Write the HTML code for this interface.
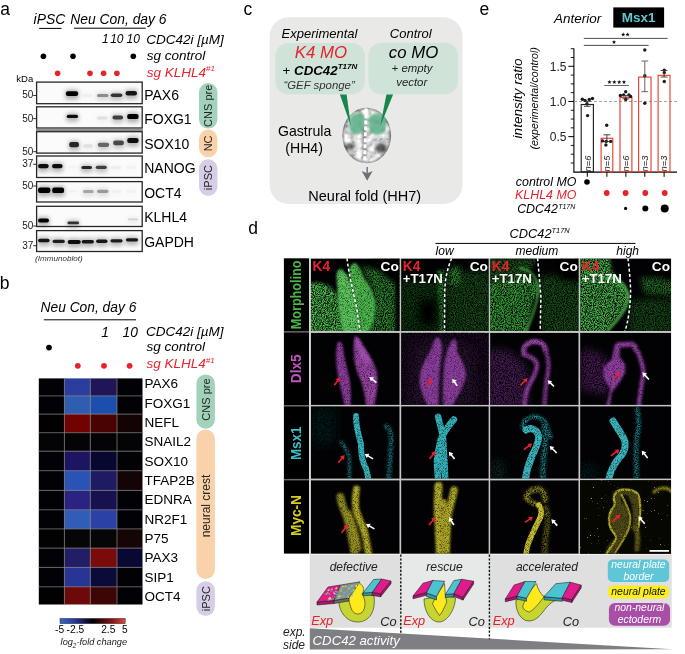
<!DOCTYPE html>
<html><head><meta charset="utf-8"><style>
html,body{margin:0;padding:0;background:#fff;width:685px;height:654px;overflow:hidden}
svg{display:block;will-change:transform}
text{font-family:"Liberation Sans", sans-serif}
</style></head><body>
<svg width="685" height="654" viewBox="0 0 685 654">
<defs>
<filter id="bl2" x="-50%" y="-50%" width="200%" height="200%"><feGaussianBlur stdDeviation="2"/></filter>
<radialGradient id="embG" cx="0.5" cy="0.45" r="0.6"><stop offset="0" stop-color="#d8d8d8"/><stop offset="0.75" stop-color="#bdbdbd"/><stop offset="1" stop-color="#5a5a5a"/></radialGradient>
<pattern id="speck" width="4" height="4" patternUnits="userSpaceOnUse"><rect width="4" height="4" fill="none"/></pattern>
<filter id="specF" x="0" y="0" width="100%" height="100%"><feTurbulence type="fractalNoise" baseFrequency="0.7" numOctaves="2" seed="7"/><feColorMatrix type="matrix" values="0 0 0 0 0.6  0 0 0 0 0.58  0 0 0 0 0.12  9 0 0 0 -6.6"/></filter>
<filter id="texA" filterUnits="userSpaceOnUse" x="0" y="0" width="685" height="654"><feTurbulence type="fractalNoise" baseFrequency="0.9" numOctaves="3" seed="3" result="n"/><feColorMatrix in="n" type="matrix" values="0 0 0 0 0  0 0 0 0 0  0 0 0 0 0  2.6 0 0 0 -0.72" result="a"/><feComposite in="SourceGraphic" in2="a" operator="in"/></filter>
<filter id="texB" filterUnits="userSpaceOnUse" x="0" y="0" width="685" height="654"><feTurbulence type="fractalNoise" baseFrequency="1.3" numOctaves="2" seed="9" result="n"/><feColorMatrix in="n" type="matrix" values="0 0 0 0 0  0 0 0 0 0  0 0 0 0 0  1.8 0 0 0 0.0" result="a"/><feComposite in="SourceGraphic" in2="a" operator="in"/></filter>
<filter id="embT" x="0" y="0" width="100%" height="100%"><feTurbulence type="fractalNoise" baseFrequency="0.16" numOctaves="3" seed="11" result="n"/><feColorMatrix in="n" type="matrix" values="1.25 0 0 0 0.12  1.25 0 0 0 0.12  1.25 0 0 0 0.12  0 0 0 0 1"/></filter>
<filter id="bl1" x="-50%" y="-100%" width="200%" height="300%"><feGaussianBlur stdDeviation="0.75"/></filter>
<clipPath id="blotclip"><rect x="37.3" y="82.2" width="104.3" height="169.2"/></clipPath>
<linearGradient id="cbar" x1="0" x2="1" y1="0" y2="0">
<stop offset="0" stop-color="#3566c6"/><stop offset="0.22" stop-color="#2a3a9a"/><stop offset="0.42" stop-color="#0c0c30"/><stop offset="0.5" stop-color="#000"/><stop offset="0.6" stop-color="#300404"/><stop offset="0.8" stop-color="#8a1414"/><stop offset="1" stop-color="#d84a3c"/></linearGradient>
<filter id="bb6" filterUnits="userSpaceOnUse" x="0" y="0" width="685" height="654"><feGaussianBlur stdDeviation="0.6"/></filter><filter id="bb7" filterUnits="userSpaceOnUse" x="0" y="0" width="685" height="654"><feGaussianBlur stdDeviation="0.7"/></filter><filter id="bb8" filterUnits="userSpaceOnUse" x="0" y="0" width="685" height="654"><feGaussianBlur stdDeviation="0.8"/></filter><filter id="bb9" filterUnits="userSpaceOnUse" x="0" y="0" width="685" height="654"><feGaussianBlur stdDeviation="0.9"/></filter><filter id="bb10" filterUnits="userSpaceOnUse" x="0" y="0" width="685" height="654"><feGaussianBlur stdDeviation="1.0"/></filter><filter id="bb11" filterUnits="userSpaceOnUse" x="0" y="0" width="685" height="654"><feGaussianBlur stdDeviation="1.1"/></filter><filter id="bb12" filterUnits="userSpaceOnUse" x="0" y="0" width="685" height="654"><feGaussianBlur stdDeviation="1.2"/></filter><filter id="bb13" filterUnits="userSpaceOnUse" x="0" y="0" width="685" height="654"><feGaussianBlur stdDeviation="1.3"/></filter><filter id="bb14" filterUnits="userSpaceOnUse" x="0" y="0" width="685" height="654"><feGaussianBlur stdDeviation="1.4"/></filter><filter id="bb15" filterUnits="userSpaceOnUse" x="0" y="0" width="685" height="654"><feGaussianBlur stdDeviation="1.5"/></filter><filter id="bb20" filterUnits="userSpaceOnUse" x="0" y="0" width="685" height="654"><feGaussianBlur stdDeviation="2"/></filter><filter id="bb25" filterUnits="userSpaceOnUse" x="0" y="0" width="685" height="654"><feGaussianBlur stdDeviation="2.5"/></filter><filter id="bb30" filterUnits="userSpaceOnUse" x="0" y="0" width="685" height="654"><feGaussianBlur stdDeviation="3"/></filter><filter id="bb40" filterUnits="userSpaceOnUse" x="0" y="0" width="685" height="654"><feGaussianBlur stdDeviation="4"/></filter><filter id="bb60" filterUnits="userSpaceOnUse" x="0" y="0" width="685" height="654"><feGaussianBlur stdDeviation="6"/></filter></defs>
<text x="0.2" y="14.6" font-size="17.5" fill="#000">a</text>
<text x="33.6" y="23.8" font-size="13.9" fill="#000" font-style="italic">iPSC</text>
<line x1="39.2" y1="28.4" x2="61.5" y2="28.4" stroke="#000" stroke-width="1"/>
<text x="70.3" y="23.8" font-size="13.85" fill="#000" font-style="italic">Neu Con, day 6</text>
<line x1="73.9" y1="28.2" x2="145.8" y2="28.2" stroke="#000" stroke-width="1"/>
<text x="101.9" y="43.1" font-size="12" fill="#000" font-style="italic">1</text>
<text x="110.2" y="43.1" font-size="12" fill="#000" font-style="italic">10</text>
<text x="126.6" y="43.1" font-size="12" fill="#000" font-style="italic">10</text>
<text x="146.3" y="43.8" font-size="13.5" fill="#000" font-style="italic">CDC42i [µM]</text>
<text x="146.8" y="59.9" font-size="13.5" fill="#000" font-style="italic">sg control</text>
<text x="146.8" y="76.7" font-size="13.5" fill="#e8222b" font-style="italic">sg KLHL4<tspan font-size="8" dy="-5.5">#1</tspan></text>
<circle cx="43.4" cy="56.3" r="2.8" fill="#000"/>
<circle cx="73" cy="56.3" r="2.8" fill="#000"/>
<circle cx="133.3" cy="56.3" r="2.8" fill="#000"/>
<circle cx="57.6" cy="73.3" r="2.8" fill="#e8222b"/>
<circle cx="90" cy="73.3" r="2.8" fill="#e8222b"/>
<circle cx="103.6" cy="73.3" r="2.8" fill="#e8222b"/>
<circle cx="116.9" cy="73.3" r="2.8" fill="#e8222b"/>
<text x="16.3" y="82.3" font-size="9.5" fill="#000">kDa</text>
<rect x="36.6" y="82.1" width="105.6" height="21.60000000000001" fill="#fbfbfb" stroke="#262626" stroke-width="1.3"/>
<rect x="36.6" y="106.8" width="105.6" height="21.200000000000003" fill="#fbfbfb" stroke="#262626" stroke-width="1.3"/>
<rect x="36.6" y="131.7" width="105.6" height="21.400000000000006" fill="#fbfbfb" stroke="#262626" stroke-width="1.3"/>
<rect x="36.6" y="156.0" width="105.6" height="21.5" fill="#fbfbfb" stroke="#262626" stroke-width="1.3"/>
<rect x="36.6" y="181.6" width="105.6" height="20.400000000000006" fill="#fbfbfb" stroke="#262626" stroke-width="1.3"/>
<rect x="36.6" y="206.3" width="105.6" height="20.19999999999999" fill="#fbfbfb" stroke="#262626" stroke-width="1.3"/>
<rect x="36.6" y="230.6" width="105.6" height="20.900000000000006" fill="#fbfbfb" stroke="#262626" stroke-width="1.3"/>
<rect x="36" y="129.1" width="107" height="1.9" fill="#8a8a8a"/>
<g clip-path="url(#blotclip)">
<rect x="65.3" y="89.8" width="13.4" height="9.6" rx="2" fill="rgb(0,0,0)" opacity="0.3" filter="url(#bl2)"/>
<rect x="65.8" y="91.3" width="12.4" height="4.6" rx="2.2" fill="rgb(0,0,0)" filter="url(#bl1)"/>
<rect x="82.0" y="92.5" width="11.0" height="8.0" rx="2" fill="rgb(239,239,239)" opacity="0.3" filter="url(#bl2)"/>
<rect x="82.5" y="94.0" width="10.0" height="3.0" rx="1.5" fill="rgb(239,239,239)" filter="url(#bl1)"/>
<rect x="96.5" y="92.5" width="12.4" height="8.0" rx="2" fill="rgb(140,140,140)" opacity="0.3" filter="url(#bl2)"/>
<rect x="97.0" y="94.0" width="11.4" height="3.0" rx="1.5" fill="rgb(140,140,140)" filter="url(#bl1)"/>
<rect x="110.3" y="91.9" width="12.5" height="8.6" rx="2" fill="rgb(50,50,50)" opacity="0.3" filter="url(#bl2)"/>
<rect x="110.8" y="93.4" width="11.5" height="3.6" rx="1.8" fill="rgb(50,50,50)" filter="url(#bl1)"/>
<rect x="125.1" y="89.5" width="12.4" height="9.4" rx="2" fill="rgb(25,25,25)" opacity="0.3" filter="url(#bl2)"/>
<rect x="125.6" y="91.0" width="11.4" height="4.4" rx="2.2" fill="rgb(25,25,25)" filter="url(#bl1)"/>
<rect x="66.2" y="113.2" width="12.4" height="8.4" rx="2" fill="rgb(12,12,12)" opacity="0.3" filter="url(#bl2)"/>
<rect x="66.7" y="114.7" width="11.4" height="3.4" rx="1.7" fill="rgb(12,12,12)" filter="url(#bl1)"/>
<rect x="96.5" y="115.0" width="11.5" height="8.0" rx="2" fill="rgb(224,224,224)" opacity="0.3" filter="url(#bl2)"/>
<rect x="97.0" y="116.5" width="10.5" height="3.0" rx="1.5" fill="rgb(224,224,224)" filter="url(#bl1)"/>
<rect x="112.0" y="114.1" width="11.6" height="8.8" rx="2" fill="rgb(63,63,63)" opacity="0.3" filter="url(#bl2)"/>
<rect x="112.5" y="115.6" width="10.6" height="3.8" rx="1.9" fill="rgb(63,63,63)" filter="url(#bl1)"/>
<rect x="126.7" y="112.4" width="12.4" height="10.2" rx="2" fill="rgb(0,0,0)" opacity="0.3" filter="url(#bl2)"/>
<rect x="127.2" y="113.9" width="11.4" height="5.2" rx="2.2" fill="rgb(0,0,0)" filter="url(#bl1)"/>
<rect x="68.7" y="140.5" width="10.8" height="10.2" rx="2" fill="rgb(38,38,38)" opacity="0.3" filter="url(#bl2)"/>
<rect x="69.2" y="142.0" width="9.8" height="5.2" rx="2.2" fill="rgb(38,38,38)" filter="url(#bl1)"/>
<rect x="82.6" y="142.7" width="10.8" height="8.6" rx="2" fill="rgb(224,224,224)" opacity="0.3" filter="url(#bl2)"/>
<rect x="83.1" y="144.2" width="9.8" height="3.6" rx="1.8" fill="rgb(224,224,224)" filter="url(#bl1)"/>
<rect x="97.3" y="141.2" width="12.4" height="9.2" rx="2" fill="rgb(102,102,102)" opacity="0.3" filter="url(#bl2)"/>
<rect x="97.8" y="142.7" width="11.4" height="4.2" rx="2.1" fill="rgb(102,102,102)" filter="url(#bl1)"/>
<rect x="112.8" y="138.9" width="11.7" height="9.8" rx="2" fill="rgb(71,71,71)" opacity="0.3" filter="url(#bl2)"/>
<rect x="113.2" y="140.4" width="10.7" height="4.8" rx="2.2" fill="rgb(71,71,71)" filter="url(#bl1)"/>
<rect x="126.7" y="136.5" width="12.4" height="10.0" rx="2" fill="rgb(12,12,12)" opacity="0.3" filter="url(#bl2)"/>
<rect x="127.2" y="138.0" width="11.4" height="5.0" rx="2.2" fill="rgb(12,12,12)" filter="url(#bl1)"/>
<rect x="37.5" y="162.4" width="11.7" height="9.4" rx="2" fill="rgb(12,12,12)" opacity="0.3" filter="url(#bl2)"/>
<rect x="38.0" y="163.9" width="10.7" height="4.4" rx="2.2" fill="rgb(12,12,12)" filter="url(#bl1)"/>
<rect x="51.5" y="162.4" width="11.6" height="9.4" rx="2" fill="rgb(12,12,12)" opacity="0.3" filter="url(#bl2)"/>
<rect x="52.0" y="163.9" width="10.6" height="4.4" rx="2.2" fill="rgb(12,12,12)" filter="url(#bl1)"/>
<rect x="67.5" y="164.4" width="10.0" height="7.6" rx="2" fill="rgb(244,244,244)" opacity="0.3" filter="url(#bl2)"/>
<rect x="68.0" y="165.9" width="9.0" height="2.6" rx="1.3" fill="rgb(244,244,244)" filter="url(#bl1)"/>
<rect x="80.9" y="164.4" width="11.6" height="8.2" rx="2" fill="rgb(38,38,38)" opacity="0.3" filter="url(#bl2)"/>
<rect x="81.4" y="165.9" width="10.6" height="3.2" rx="1.6" fill="rgb(38,38,38)" filter="url(#bl1)"/>
<rect x="95.3" y="164.2" width="12.0" height="8.2" rx="2" fill="rgb(63,63,63)" opacity="0.3" filter="url(#bl2)"/>
<rect x="95.8" y="165.7" width="11.0" height="3.2" rx="1.6" fill="rgb(63,63,63)" filter="url(#bl1)"/>
<rect x="110.5" y="164.7" width="11.0" height="7.6" rx="2" fill="rgb(237,237,237)" opacity="0.3" filter="url(#bl2)"/>
<rect x="111.0" y="166.2" width="10.0" height="2.6" rx="1.3" fill="rgb(237,237,237)" filter="url(#bl1)"/>
<rect x="125.5" y="164.7" width="11.0" height="7.6" rx="2" fill="rgb(242,242,242)" opacity="0.3" filter="url(#bl2)"/>
<rect x="126.0" y="166.2" width="10.0" height="2.6" rx="1.3" fill="rgb(242,242,242)" filter="url(#bl1)"/>
<rect x="37.5" y="186.1" width="13.4" height="10.4" rx="2" fill="rgb(0,0,0)" opacity="0.3" filter="url(#bl2)"/>
<rect x="38.0" y="187.6" width="12.4" height="5.4" rx="2.2" fill="rgb(0,0,0)" filter="url(#bl1)"/>
<rect x="51.8" y="186.0" width="12.9" height="10.6" rx="2" fill="rgb(0,0,0)" opacity="0.3" filter="url(#bl2)"/>
<rect x="52.2" y="187.5" width="11.9" height="5.6" rx="2.2" fill="rgb(0,0,0)" filter="url(#bl1)"/>
<rect x="67.5" y="188.5" width="10.0" height="7.6" rx="2" fill="rgb(242,242,242)" opacity="0.3" filter="url(#bl2)"/>
<rect x="68.0" y="190.0" width="9.0" height="2.6" rx="1.3" fill="rgb(242,242,242)" filter="url(#bl1)"/>
<rect x="82.5" y="188.4" width="11.7" height="8.2" rx="2" fill="rgb(165,165,165)" opacity="0.3" filter="url(#bl2)"/>
<rect x="83.0" y="189.9" width="10.7" height="3.2" rx="1.6" fill="rgb(165,165,165)" filter="url(#bl1)"/>
<rect x="96.5" y="188.2" width="12.4" height="8.2" rx="2" fill="rgb(153,153,153)" opacity="0.3" filter="url(#bl2)"/>
<rect x="97.0" y="189.7" width="11.4" height="3.2" rx="1.6" fill="rgb(153,153,153)" filter="url(#bl1)"/>
<rect x="111.0" y="188.7" width="11.0" height="7.6" rx="2" fill="rgb(239,239,239)" opacity="0.3" filter="url(#bl2)"/>
<rect x="111.5" y="190.2" width="10.0" height="2.6" rx="1.3" fill="rgb(239,239,239)" filter="url(#bl1)"/>
<rect x="125.5" y="188.7" width="11.0" height="7.6" rx="2" fill="rgb(242,242,242)" opacity="0.3" filter="url(#bl2)"/>
<rect x="126.0" y="190.2" width="10.0" height="2.6" rx="1.3" fill="rgb(242,242,242)" filter="url(#bl1)"/>
<rect x="37.5" y="217.0" width="12.0" height="9.0" rx="2" fill="rgb(0,0,0)" opacity="0.3" filter="url(#bl2)"/>
<rect x="38.0" y="218.5" width="11.0" height="4.0" rx="2.0" fill="rgb(0,0,0)" filter="url(#bl1)"/>
<rect x="67.0" y="220.1" width="12.5" height="7.6" rx="2" fill="rgb(50,50,50)" opacity="0.3" filter="url(#bl2)"/>
<rect x="67.5" y="221.6" width="11.5" height="2.6" rx="1.3" fill="rgb(50,50,50)" filter="url(#bl1)"/>
<rect x="127.5" y="217.0" width="11.0" height="6.8" rx="2" fill="rgb(209,209,209)" opacity="0.3" filter="url(#bl2)"/>
<rect x="128.0" y="218.5" width="10.0" height="1.8" rx="0.9" fill="rgb(209,209,209)" filter="url(#bl1)"/>
<rect x="37.5" y="237.2" width="12.6" height="8.6" rx="2" fill="rgb(20,20,20)" opacity="0.3" filter="url(#bl2)"/>
<rect x="38.0" y="238.7" width="11.6" height="3.6" rx="1.8" fill="rgb(20,20,20)" filter="url(#bl1)"/>
<rect x="52.1" y="238.2" width="13.2" height="8.2" rx="2" fill="rgb(30,30,30)" opacity="0.3" filter="url(#bl2)"/>
<rect x="52.6" y="239.7" width="12.2" height="3.2" rx="1.6" fill="rgb(30,30,30)" filter="url(#bl1)"/>
<rect x="67.2" y="238.5" width="14.0" height="9.0" rx="2" fill="rgb(12,12,12)" opacity="0.3" filter="url(#bl2)"/>
<rect x="67.7" y="240.0" width="13.0" height="4.0" rx="2.0" fill="rgb(12,12,12)" filter="url(#bl1)"/>
<rect x="81.2" y="238.4" width="13.2" height="8.6" rx="2" fill="rgb(20,20,20)" opacity="0.3" filter="url(#bl2)"/>
<rect x="81.7" y="239.9" width="12.2" height="3.6" rx="1.8" fill="rgb(20,20,20)" filter="url(#bl1)"/>
<rect x="95.6" y="237.9" width="12.4" height="8.6" rx="2" fill="rgb(25,25,25)" opacity="0.3" filter="url(#bl2)"/>
<rect x="96.1" y="239.4" width="11.4" height="3.6" rx="1.8" fill="rgb(25,25,25)" filter="url(#bl1)"/>
<rect x="109.9" y="237.7" width="13.2" height="8.2" rx="2" fill="rgb(30,30,30)" opacity="0.3" filter="url(#bl2)"/>
<rect x="110.4" y="239.2" width="12.2" height="3.2" rx="1.6" fill="rgb(30,30,30)" filter="url(#bl1)"/>
<rect x="125.4" y="236.7" width="13.2" height="8.2" rx="2" fill="rgb(25,25,25)" opacity="0.3" filter="url(#bl2)"/>
<rect x="125.9" y="238.2" width="12.2" height="3.2" rx="1.6" fill="rgb(25,25,25)" filter="url(#bl1)"/>
</g>
<text x="33.4" y="98.4" font-size="10" fill="#1a1a1a" text-anchor="end">50</text>
<line x1="33.2" y1="95.5" x2="36.2" y2="95.5" stroke="#000" stroke-width="0.8"/>
<text x="33.4" y="121.5" font-size="10" fill="#1a1a1a" text-anchor="end">50</text>
<line x1="33.2" y1="118.6" x2="36.2" y2="118.6" stroke="#000" stroke-width="0.8"/>
<text x="33.4" y="154.6" font-size="10" fill="#1a1a1a" text-anchor="end">50</text>
<line x1="33.2" y1="151.7" x2="36.2" y2="151.7" stroke="#000" stroke-width="0.8"/>
<text x="33.4" y="167.20000000000002" font-size="10" fill="#1a1a1a" text-anchor="end">37</text>
<line x1="33.2" y1="164.3" x2="36.2" y2="164.3" stroke="#000" stroke-width="0.8"/>
<text x="33.4" y="188.9" font-size="10" fill="#1a1a1a" text-anchor="end">50</text>
<line x1="33.2" y1="186" x2="36.2" y2="186" stroke="#000" stroke-width="0.8"/>
<text x="33.4" y="228.9" font-size="10" fill="#1a1a1a" text-anchor="end">50</text>
<line x1="33.2" y1="226" x2="36.2" y2="226" stroke="#000" stroke-width="0.8"/>
<text x="33.4" y="248.6" font-size="10" fill="#1a1a1a" text-anchor="end">37</text>
<line x1="33.2" y1="245.7" x2="36.2" y2="245.7" stroke="#000" stroke-width="0.8"/>
<text x="144.2" y="99.6" font-size="14" fill="#000">PAX6</text>
<text x="144.2" y="124.1" font-size="14" fill="#000">FOXG1</text>
<text x="144.2" y="148.6" font-size="14" fill="#000">SOX10</text>
<text x="144.2" y="173" font-size="14" fill="#000">NANOG</text>
<text x="144.2" y="197.6" font-size="14" fill="#000">OCT4</text>
<text x="144.2" y="222.3" font-size="14" fill="#000">KLHL4</text>
<text x="144.2" y="246.7" font-size="14" fill="#000">GAPDH</text>
<rect x="199" y="83" width="18.400000000000006" height="45.599999999999994" rx="9.200000000000003" fill="#a3d2bc"/>
<text transform="translate(208.2,105.8) rotate(-90)" text-anchor="middle" dominant-baseline="central" font-size="11" fill="#222">CNS pre</text>
<rect x="199" y="129.5" width="18.400000000000006" height="27.80000000000001" rx="9.200000000000003" fill="#f9d2aa"/>
<text transform="translate(208.2,143.4) rotate(-90)" text-anchor="middle" dominant-baseline="central" font-size="11" fill="#222">NC</text>
<rect x="199" y="159.2" width="18.400000000000006" height="36.80000000000001" rx="9.200000000000003" fill="#d6cee6"/>
<text transform="translate(208.2,177.6) rotate(-90)" text-anchor="middle" dominant-baseline="central" font-size="11" fill="#222">iPSC</text>
<text x="35" y="260.8" font-size="8.1" fill="#333" font-style="italic">(Immunoblot)</text>
<text x="-0.2" y="289.3" font-size="17.5" fill="#000">b</text>
<text x="40.5" y="311.5" font-size="13.8" fill="#000" font-style="italic">Neu Con, day 6</text>
<line x1="43.8" y1="319.8" x2="136" y2="319.8" stroke="#000" stroke-width="1"/>
<text x="101.3" y="336.5" font-size="13.8" fill="#000" font-style="italic">1</text>
<text x="122.6" y="336.5" font-size="13.8" fill="#000" font-style="italic">10</text>
<text x="146" y="335.5" font-size="13.5" fill="#000" font-style="italic">CDC42i [µM]</text>
<text x="146.5" y="351" font-size="13.5" fill="#000" font-style="italic">sg control</text>
<text x="146.5" y="368" font-size="13.5" fill="#e8222b" font-style="italic">sg KLHL4<tspan font-size="8" dy="-5.5">#1</tspan></text>
<circle cx="49" cy="347.6" r="2.9" fill="#000"/>
<circle cx="77.8" cy="365.8" r="2.9" fill="#e8222b"/>
<circle cx="104" cy="365.8" r="2.9" fill="#e8222b"/>
<circle cx="129.6" cy="365.8" r="2.9" fill="#e8222b"/>
<rect x="38.8" y="378.4" width="25.90000000000001" height="17.8" fill="#010106"/>
<rect x="64.4" y="378.4" width="26.199999999999992" height="17.8" fill="#2b3d9d"/>
<rect x="90.3" y="378.4" width="27.000000000000004" height="17.8" fill="#1e1656"/>
<rect x="117" y="378.4" width="25.49999999999999" height="17.8" fill="#010106"/>
<rect x="38.8" y="395.9" width="25.90000000000001" height="18.500000000000046" fill="#010106"/>
<rect x="64.4" y="395.9" width="26.199999999999992" height="18.500000000000046" fill="#2f5daf"/>
<rect x="90.3" y="395.9" width="27.000000000000004" height="18.500000000000046" fill="#1c4fad"/>
<rect x="117" y="395.9" width="25.49999999999999" height="18.500000000000046" fill="#010106"/>
<rect x="38.8" y="414.1" width="25.90000000000001" height="18.899999999999967" fill="#020000"/>
<rect x="64.4" y="414.1" width="26.199999999999992" height="18.899999999999967" fill="#720202"/>
<rect x="90.3" y="414.1" width="27.000000000000004" height="18.899999999999967" fill="#4a0303"/>
<rect x="117" y="414.1" width="25.49999999999999" height="18.899999999999967" fill="#130303"/>
<rect x="38.8" y="432.7" width="25.90000000000001" height="18.8" fill="#040406"/>
<rect x="64.4" y="432.7" width="26.199999999999992" height="18.8" fill="#040406"/>
<rect x="90.3" y="432.7" width="27.000000000000004" height="18.8" fill="#040406"/>
<rect x="117" y="432.7" width="25.49999999999999" height="18.8" fill="#040406"/>
<rect x="38.8" y="451.2" width="25.90000000000001" height="19.8" fill="#010106"/>
<rect x="64.4" y="451.2" width="26.199999999999992" height="19.8" fill="#1d1561"/>
<rect x="90.3" y="451.2" width="27.000000000000004" height="19.8" fill="#07072f"/>
<rect x="117" y="451.2" width="25.49999999999999" height="19.8" fill="#010106"/>
<rect x="38.8" y="470.7" width="25.90000000000001" height="19.99999999999999" fill="#010106"/>
<rect x="64.4" y="470.7" width="26.199999999999992" height="19.99999999999999" fill="#2b53b5"/>
<rect x="90.3" y="470.7" width="27.000000000000004" height="19.99999999999999" fill="#1f1b63"/>
<rect x="117" y="470.7" width="25.49999999999999" height="19.99999999999999" fill="#130505"/>
<rect x="38.8" y="490.4" width="25.90000000000001" height="19.700000000000035" fill="#010106"/>
<rect x="64.4" y="490.4" width="26.199999999999992" height="19.700000000000035" fill="#2b2381"/>
<rect x="90.3" y="490.4" width="27.000000000000004" height="19.700000000000035" fill="#17114f"/>
<rect x="117" y="490.4" width="25.49999999999999" height="19.700000000000035" fill="#010106"/>
<rect x="38.8" y="509.8" width="25.90000000000001" height="19.399999999999967" fill="#010106"/>
<rect x="64.4" y="509.8" width="26.199999999999992" height="19.399999999999967" fill="#305db7"/>
<rect x="90.3" y="509.8" width="27.000000000000004" height="19.399999999999967" fill="#2b41a5"/>
<rect x="117" y="509.8" width="25.49999999999999" height="19.399999999999967" fill="#010106"/>
<rect x="38.8" y="528.9" width="25.90000000000001" height="19.500000000000046" fill="#020202"/>
<rect x="64.4" y="528.9" width="26.199999999999992" height="19.500000000000046" fill="#060606"/>
<rect x="90.3" y="528.9" width="27.000000000000004" height="19.500000000000046" fill="#060606"/>
<rect x="117" y="528.9" width="25.49999999999999" height="19.500000000000046" fill="#150505"/>
<rect x="38.8" y="548.1" width="25.90000000000001" height="19.599999999999955" fill="#010106"/>
<rect x="64.4" y="548.1" width="26.199999999999992" height="19.599999999999955" fill="#211d67"/>
<rect x="90.3" y="548.1" width="27.000000000000004" height="19.599999999999955" fill="#790b0b"/>
<rect x="117" y="548.1" width="25.49999999999999" height="19.599999999999955" fill="#080833"/>
<rect x="38.8" y="567.4" width="25.90000000000001" height="19.699999999999978" fill="#010106"/>
<rect x="64.4" y="567.4" width="26.199999999999992" height="19.699999999999978" fill="#293595"/>
<rect x="90.3" y="567.4" width="27.000000000000004" height="19.699999999999978" fill="#0a0b39"/>
<rect x="117" y="567.4" width="25.49999999999999" height="19.699999999999978" fill="#010106"/>
<rect x="38.8" y="586.8" width="25.90000000000001" height="17.70000000000009" fill="#020000"/>
<rect x="64.4" y="586.8" width="26.199999999999992" height="17.70000000000009" fill="#6d0909"/>
<rect x="90.3" y="586.8" width="27.000000000000004" height="17.70000000000009" fill="#3d0505"/>
<rect x="117" y="586.8" width="25.49999999999999" height="17.70000000000009" fill="#010106"/>
<line x1="64.4" y1="378.4" x2="64.4" y2="604.2" stroke="#8a8a8a" stroke-width="0.7"/>
<line x1="90.3" y1="378.4" x2="90.3" y2="604.2" stroke="#8a8a8a" stroke-width="0.7"/>
<line x1="117" y1="378.4" x2="117" y2="604.2" stroke="#8a8a8a" stroke-width="0.7"/>
<line x1="38.8" y1="395.9" x2="142.2" y2="395.9" stroke="#8a8a8a" stroke-width="0.7"/>
<line x1="38.8" y1="414.1" x2="142.2" y2="414.1" stroke="#8a8a8a" stroke-width="0.7"/>
<line x1="38.8" y1="432.7" x2="142.2" y2="432.7" stroke="#8a8a8a" stroke-width="0.7"/>
<line x1="38.8" y1="451.2" x2="142.2" y2="451.2" stroke="#8a8a8a" stroke-width="0.7"/>
<line x1="38.8" y1="470.7" x2="142.2" y2="470.7" stroke="#8a8a8a" stroke-width="0.7"/>
<line x1="38.8" y1="490.4" x2="142.2" y2="490.4" stroke="#8a8a8a" stroke-width="0.7"/>
<line x1="38.8" y1="509.8" x2="142.2" y2="509.8" stroke="#8a8a8a" stroke-width="0.7"/>
<line x1="38.8" y1="528.9" x2="142.2" y2="528.9" stroke="#8a8a8a" stroke-width="0.7"/>
<line x1="38.8" y1="548.1" x2="142.2" y2="548.1" stroke="#8a8a8a" stroke-width="0.7"/>
<line x1="38.8" y1="567.4" x2="142.2" y2="567.4" stroke="#8a8a8a" stroke-width="0.7"/>
<line x1="38.8" y1="586.8" x2="142.2" y2="586.8" stroke="#8a8a8a" stroke-width="0.7"/>
<text x="144.6" y="388.4" font-size="13.5" fill="#000">PAX6</text>
<text x="144.6" y="407.7" font-size="13.5" fill="#000">FOXG1</text>
<text x="144.6" y="427.0" font-size="13.5" fill="#000">NEFL</text>
<text x="144.6" y="446.3" font-size="13.5" fill="#000">SNAIL2</text>
<text x="144.6" y="465.6" font-size="13.5" fill="#000">SOX10</text>
<text x="144.6" y="484.9" font-size="13.5" fill="#000">TFAP2B</text>
<text x="144.6" y="504.3" font-size="13.5" fill="#000">EDNRA</text>
<text x="144.6" y="523.6" font-size="13.5" fill="#000">NR2F1</text>
<text x="144.6" y="542.9" font-size="13.5" fill="#000">P75</text>
<text x="144.6" y="562.2" font-size="13.5" fill="#000">PAX3</text>
<text x="144.6" y="581.5" font-size="13.5" fill="#000">SIP1</text>
<text x="144.6" y="600.8" font-size="13.5" fill="#000">OCT4</text>
<rect x="196.4" y="374.4" width="18.5" height="54.30000000000001" rx="9.25" fill="#a3d2bc"/>
<text transform="translate(205.65,399.54999999999995) rotate(-90)" text-anchor="middle" dominant-baseline="central" font-size="11" fill="#222">CNS pre</text>
<rect x="196.4" y="429.6" width="18.5" height="149.39999999999998" rx="9.25" fill="#f9d2aa"/>
<text transform="translate(205.65,506.0) rotate(-90)" text-anchor="middle" dominant-baseline="central" font-size="12" fill="#222">neural crest</text>
<rect x="196.4" y="581.3" width="18.5" height="34.700000000000045" rx="9.25" fill="#d6cee6"/>
<text transform="translate(205.65,598.65) rotate(-90)" text-anchor="middle" dominant-baseline="central" font-size="11" fill="#222">iPSC</text>
<rect x="60" y="618.4" width="65.2" height="5.3" fill="url(#cbar)" stroke="#333" stroke-width="0.5"/>
<text x="55.0" y="632.7" font-size="10.2" fill="#000">-5</text>
<text x="66.6" y="632.7" font-size="10.2" fill="#000">-2.5</text>
<text x="101.2" y="632.7" font-size="10.2" fill="#000">2.5</text>
<text x="122.0" y="632.7" font-size="10.2" fill="#000">5</text>
<text x="60.6" y="645.3" font-size="9.2" fill="#1a1a1a" font-style="italic">log<tspan font-size="6.4" dy="2.2">2</tspan><tspan dy="-2.2">-fold change</tspan></text>
<text x="243.6" y="14.6" font-size="17.5" fill="#000">c</text>
<rect x="269.7" y="17.3" width="192.8" height="186.7" rx="19" fill="#e9e9e7"/>
<text x="281.6" y="38.1" font-size="13" fill="#000" font-style="italic">Experimental</text>
<text x="389.8" y="38.1" font-size="13" fill="#000" font-style="italic">Control</text>
<rect x="275.4" y="42.9" width="89.5" height="51.4" rx="13" fill="#cfe3d9"/>
<rect x="368.4" y="42.7" width="89.6" height="51.6" rx="13" fill="#cfe3d9"/>
<text x="294.8" y="57.7" font-size="16.8" fill="#e8222b" font-style="italic">K4 MO</text>
<text x="388.8" y="57.7" font-size="16.8" fill="#000" font-style="italic">co MO</text>
<text x="282.6" y="74.6" font-size="13.3" fill="#000" font-weight="bold" font-style="italic"><tspan font-weight="normal" font-style="normal">+</tspan> CDC42<tspan font-size="8" dy="-6">T17N</tspan></text>
<text x="283.4" y="89.2" font-size="11.4" fill="#333" font-style="italic">“GEF sponge”</text>
<text x="391.6" y="71.8" font-size="11.4" fill="#222" font-style="italic">+ empty</text>
<text x="396.2" y="85.5" font-size="11.4" fill="#222" font-style="italic">vector</text>
<clipPath id="embC"><ellipse cx="366.7" cy="135.5" rx="24.4" ry="27.8"/></clipPath>
<g clip-path="url(#embC)">
<rect x="340" y="106" width="54" height="60" fill="#fff" filter="url(#embT)"/>
<g filter="url(#bb15)"><ellipse cx="350" cy="146.5" rx="5.5" ry="3.5" fill="#333" opacity="0.6"/><ellipse cx="381" cy="148" rx="6" ry="5" fill="#222" opacity="0.7"/><path d="M364.3,126 L364.3,157" stroke="#333" stroke-width="2.5" opacity="0.7"/></g>
<ellipse cx="366.7" cy="135.5" rx="24.4" ry="27.8" fill="none" stroke="#222" stroke-width="1.6" opacity="0.8" filter="url(#bb8)"/>
<g><g filter="url(#bb8)"><path d="M350,118 C352,113 360,112 364,115 C366,120 366,128 363,132 C359,136 352,135 350,130 C349,126 349,121 350,118 Z" fill="#5aae86" opacity="0.85"/><path d="M369,117 C372,113 380,112 384,116 C387,121 387,129 384,133 C379,136 372,136 370,131 C368,127 368,121 369,117 Z" fill="#5aae86" opacity="0.85"/></g></g>
</g>
<path d="M366.2,108.4 L364.5,162.5" stroke="#fff" stroke-width="2.9" stroke-dasharray="3.8 2.2"/>
<polygon points="339.9,94.6 346.6,94.6 350.9,126" fill="#14874a"/>
<polygon points="386.4,94.6 393.1,94.6 380.3,126" fill="#14874a"/>
<rect x="366.5" y="167" width="1.4" height="6" fill="#6e7074"/>
<polygon points="361.7,171.1 367.2,173.2 372.6,171.1 367.2,180.8" fill="#6e7074"/>
<text x="278" y="136.1" font-size="14.1" fill="#000">Gastrula</text>
<text x="285.3" y="152.9" font-size="14.1" fill="#000">(HH4)</text>
<text x="308.3" y="200.5" font-size="14.5" fill="#000">Neural fold (HH7)</text>
<text x="479.5" y="14.6" font-size="17.5" fill="#000">e</text>
<text x="554" y="22.9" font-size="13.5" fill="#000" font-style="italic">Anterior</text>
<rect x="613.3" y="7.4" width="50.8" height="20.2" fill="#000"/>
<text x="638.7" y="22.2" font-size="13.5" fill="#5ec8d2" font-weight="bold" text-anchor="middle">Msx1</text>
<line x1="583.8" y1="38.4" x2="667.6" y2="38.4" stroke="#3a3a3a" stroke-width="0.9"/>
<polygon points="623.20,32.50 623.77,33.87 625.24,33.99 624.12,34.95 624.46,36.39 623.20,35.62 621.94,36.39 622.28,34.95 621.16,33.99 622.63,33.87" fill="#111"/>
<polygon points="627.60,32.50 628.17,33.87 629.64,33.99 628.52,34.95 628.86,36.39 627.60,35.62 626.34,36.39 626.68,34.95 625.56,33.99 627.03,33.87" fill="#111"/>
<line x1="583.8" y1="45.4" x2="648.6" y2="45.4" stroke="#3a3a3a" stroke-width="0.9"/>
<polygon points="614.00,40.00 614.57,41.37 616.04,41.49 614.92,42.45 615.26,43.89 614.00,43.12 612.74,43.89 613.08,42.45 611.96,41.49 613.43,41.37" fill="#111"/>
<line x1="604.2" y1="85.5" x2="628.9" y2="85.5" stroke="#555" stroke-width="0.9"/>
<polygon points="609.50,80.00 610.07,81.37 611.54,81.49 610.42,82.45 610.76,83.89 609.50,83.12 608.24,83.89 608.58,82.45 607.46,81.49 608.93,81.37" fill="#111"/>
<polygon points="614.30,80.00 614.87,81.37 616.34,81.49 615.22,82.45 615.56,83.89 614.30,83.12 613.04,83.89 613.38,82.45 612.26,81.49 613.73,81.37" fill="#111"/>
<polygon points="619.20,80.00 619.77,81.37 621.24,81.49 620.12,82.45 620.46,83.89 619.20,83.12 617.94,83.89 618.28,82.45 617.16,81.49 618.63,81.37" fill="#111"/>
<polygon points="624.00,80.00 624.57,81.37 626.04,81.49 624.92,82.45 625.26,83.89 624.00,83.12 622.74,83.89 623.08,82.45 621.96,81.49 623.43,81.37" fill="#111"/>
<line x1="573.9" y1="48.5" x2="573.9" y2="172.2" stroke="#000" stroke-width="1.1"/>
<line x1="573.4" y1="172.1" x2="677" y2="172.1" stroke="#000" stroke-width="1.1"/>
<line x1="570.8" y1="163.01" x2="574" y2="163.01" stroke="#000" stroke-width="0.9"/>
<line x1="570.8" y1="154.22" x2="574" y2="154.22" stroke="#000" stroke-width="0.9"/>
<line x1="570.8" y1="145.42" x2="574" y2="145.42" stroke="#000" stroke-width="0.9"/>
<line x1="568.3" y1="136.63" x2="574" y2="136.63" stroke="#000" stroke-width="1"/>
<line x1="570.8" y1="127.84" x2="574" y2="127.84" stroke="#000" stroke-width="0.9"/>
<line x1="570.8" y1="119.05" x2="574" y2="119.05" stroke="#000" stroke-width="0.9"/>
<line x1="570.8" y1="110.25" x2="574" y2="110.25" stroke="#000" stroke-width="0.9"/>
<line x1="568.3" y1="101.46" x2="574" y2="101.46" stroke="#000" stroke-width="1"/>
<line x1="570.8" y1="92.67" x2="574" y2="92.67" stroke="#000" stroke-width="0.9"/>
<line x1="570.8" y1="83.88" x2="574" y2="83.88" stroke="#000" stroke-width="0.9"/>
<line x1="570.8" y1="75.08" x2="574" y2="75.08" stroke="#000" stroke-width="0.9"/>
<line x1="568.3" y1="66.29" x2="574" y2="66.29" stroke="#000" stroke-width="1"/>
<line x1="570.8" y1="57.5" x2="574" y2="57.5" stroke="#000" stroke-width="0.9"/>
<line x1="570.8" y1="48.71" x2="574" y2="48.71" stroke="#000" stroke-width="0.9"/>
<text x="566.5" y="70.59" font-size="12" fill="#222" text-anchor="end">1.5</text>
<text x="566.5" y="105.76" font-size="12" fill="#222" text-anchor="end">1.0</text>
<text x="566.5" y="140.93" font-size="12" fill="#222" text-anchor="end">0.5</text>
<text transform="translate(522.2,98.4) rotate(-90)" text-anchor="middle" font-size="13.6" font-style="italic">intensity ratio</text>
<text transform="translate(537.9,98.4) rotate(-90)" text-anchor="middle" font-size="10.6" font-style="italic">(experimental/control)</text>
<line x1="574" y1="101.46000000000001" x2="679" y2="101.46000000000001" stroke="#9a9a9a" stroke-width="0.9" stroke-dasharray="3 2"/>
<rect x="581.2" y="104.5219" width="12.199999999999978" height="67.27810000000001" fill="none" stroke="#222" stroke-width="1.15"/>
<rect x="601.1" y="138.2851" width="11.699999999999978" height="33.514900000000004" fill="none" stroke="#e8412f" stroke-width="1.15"/>
<rect x="620.0" y="97.48790000000001" width="11.900000000000023" height="74.3121" fill="none" stroke="#e8412f" stroke-width="1.15"/>
<rect x="638.6" y="77.08930000000001" width="12.400000000000023" height="94.7107" fill="none" stroke="#e8412f" stroke-width="1.15"/>
<rect x="658.1" y="75.33080000000001" width="11.900000000000023" height="96.4692" fill="none" stroke="#e8412f" stroke-width="1.15"/>
<text transform="translate(590.5,163.5) rotate(-90)" text-anchor="middle" font-size="9.3" font-style="italic" fill="#222">n=6</text>
<text transform="translate(610.1500000000001,163.5) rotate(-90)" text-anchor="middle" font-size="9.3" font-style="italic" fill="#222">n=5</text>
<text transform="translate(629.1500000000001,163.5) rotate(-90)" text-anchor="middle" font-size="9.3" font-style="italic" fill="#222">n=6</text>
<text transform="translate(648.0,163.5) rotate(-90)" text-anchor="middle" font-size="9.3" font-style="italic" fill="#222">n=3</text>
<text transform="translate(667.25,163.5) rotate(-90)" text-anchor="middle" font-size="9.3" font-style="italic" fill="#222">n=3</text>
<circle cx="582.3" cy="99.2" r="1.7" fill="#1a1a1a"/>
<circle cx="585" cy="100.4" r="1.7" fill="#1a1a1a"/>
<circle cx="589.3" cy="99.5" r="1.7" fill="#1a1a1a"/>
<circle cx="592.5" cy="98.5" r="1.7" fill="#1a1a1a"/>
<circle cx="587" cy="103.7" r="1.7" fill="#1a1a1a"/>
<circle cx="587.6" cy="115.6" r="1.7" fill="#1a1a1a"/>
<circle cx="606.7" cy="125.2" r="1.7" fill="#1a1a1a"/>
<circle cx="602.6" cy="140.9" r="1.7" fill="#1a1a1a"/>
<circle cx="606.2" cy="141.4" r="1.7" fill="#1a1a1a"/>
<circle cx="610.7" cy="141.4" r="1.7" fill="#1a1a1a"/>
<circle cx="605.9" cy="145" r="1.7" fill="#1a1a1a"/>
<circle cx="620.4" cy="95.5" r="1.7" fill="#1a1a1a"/>
<circle cx="623.6" cy="94.9" r="1.7" fill="#1a1a1a"/>
<circle cx="625.7" cy="91.7" r="1.7" fill="#1a1a1a"/>
<circle cx="628.9" cy="94.9" r="1.7" fill="#1a1a1a"/>
<circle cx="630.6" cy="96.5" r="1.7" fill="#1a1a1a"/>
<circle cx="625.7" cy="99.5" r="1.7" fill="#1a1a1a"/>
<circle cx="644.8" cy="50" r="1.7" fill="#1a1a1a"/>
<circle cx="644.8" cy="75.8" r="1.7" fill="#1a1a1a"/>
<circle cx="644.8" cy="103.3" r="1.7" fill="#1a1a1a"/>
<circle cx="664.3" cy="70.1" r="1.7" fill="#1a1a1a"/>
<circle cx="664.3" cy="72.6" r="1.7" fill="#1a1a1a"/>
<circle cx="664.3" cy="81.5" r="1.7" fill="#1a1a1a"/>
<line x1="587.3" y1="101.3" x2="587.3" y2="106.3" stroke="#333" stroke-width="0.9"/>
<line x1="583.9" y1="101.3" x2="590.6999999999999" y2="101.3" stroke="#333" stroke-width="0.9"/>
<line x1="583.9" y1="106.3" x2="590.6999999999999" y2="106.3" stroke="#333" stroke-width="0.9"/>
<line x1="606.9" y1="134.8" x2="606.9" y2="141.5" stroke="#333" stroke-width="0.9"/>
<line x1="603.5" y1="134.8" x2="610.3" y2="134.8" stroke="#333" stroke-width="0.9"/>
<line x1="603.5" y1="141.5" x2="610.3" y2="141.5" stroke="#333" stroke-width="0.9"/>
<line x1="625.9" y1="95.6" x2="625.9" y2="98.8" stroke="#333" stroke-width="0.9"/>
<line x1="622.5" y1="95.6" x2="629.3" y2="95.6" stroke="#333" stroke-width="0.9"/>
<line x1="622.5" y1="98.8" x2="629.3" y2="98.8" stroke="#333" stroke-width="0.9"/>
<line x1="644.8" y1="61" x2="644.8" y2="91.7" stroke="#555" stroke-width="0.9"/>
<line x1="641.4" y1="61" x2="648.1999999999999" y2="61" stroke="#555" stroke-width="0.9"/>
<line x1="641.4" y1="91.7" x2="648.1999999999999" y2="91.7" stroke="#555" stroke-width="0.9"/>
<line x1="664.1" y1="70.5" x2="664.1" y2="77" stroke="#333" stroke-width="0.9"/>
<line x1="660.7" y1="70.5" x2="667.5" y2="70.5" stroke="#333" stroke-width="0.9"/>
<line x1="660.7" y1="77" x2="667.5" y2="77" stroke="#333" stroke-width="0.9"/>
<text x="576.4" y="186.3" font-size="12.4" fill="#000" font-style="italic" text-anchor="end">control MO</text>
<text x="576.4" y="199" font-size="12.4" fill="#e8222b" font-style="italic" text-anchor="end">KLHL4 MO</text>
<text x="557.8" y="213.1" font-size="12.4" fill="#000" font-style="italic" text-anchor="end">CDC42</text>
<text x="558.2" y="209.1" font-size="7" fill="#000" font-style="italic">T17N</text>
<line x1="587.3" y1="172" x2="587.3" y2="176.8" stroke="#000" stroke-width="1"/>
<line x1="606.9" y1="172" x2="606.9" y2="176.8" stroke="#000" stroke-width="1"/>
<line x1="625.9" y1="172" x2="625.9" y2="176.8" stroke="#000" stroke-width="1"/>
<line x1="644.8" y1="172" x2="644.8" y2="176.8" stroke="#000" stroke-width="1"/>
<line x1="664.1" y1="172" x2="664.1" y2="176.8" stroke="#000" stroke-width="1"/>
<circle cx="587" cy="182" r="2.8" fill="#000"/>
<circle cx="606.7" cy="193" r="2.9" fill="#e8222b"/>
<circle cx="625.6" cy="193" r="2.9" fill="#e8222b"/>
<circle cx="645.3" cy="193" r="2.9" fill="#e8222b"/>
<circle cx="664.7" cy="193" r="2.9" fill="#e8222b"/>
<circle cx="625.6" cy="208.4" r="1.6" fill="#000"/>
<circle cx="645.3" cy="208.4" r="3.0" fill="#000"/>
<circle cx="664.7" cy="208.4" r="4.0" fill="#000"/>
<text x="248.3" y="233.6" font-size="17.5" fill="#000">d</text>
<text x="509.6" y="238.4" font-size="12.8" fill="#000" font-style="italic">CDC42<tspan font-size="7.4" dy="-5.2">T17N</tspan></text>
<line x1="435.5" y1="243.4" x2="635.5" y2="243.4" stroke="#000" stroke-width="1"/>
<text x="435.6" y="255.4" font-size="12" fill="#000" font-style="italic">low</text>
<text x="515.6" y="255.4" font-size="12" fill="#000" font-style="italic">medium</text>
<text x="616.3" y="255.4" font-size="12" fill="#000" font-style="italic">high</text>
<rect x="283.9" y="258.3" width="25.1" height="295.3" fill="#000"/>
<rect x="283.9" y="331.1" width="25.1" height="1.5" fill="#6a6a6a"/>
<rect x="283.9" y="405.0" width="25.1" height="1.5" fill="#6a6a6a"/>
<rect x="283.9" y="478.90000000000003" width="25.1" height="1.5" fill="#6a6a6a"/>
<text transform="translate(301.3,294.9) rotate(-90)" text-anchor="middle" font-size="14" font-weight="bold" fill="#4cb84c" textLength="68.8" lengthAdjust="spacingAndGlyphs">Morpholino</text>
<text transform="translate(301.3,368.75) rotate(-90)" text-anchor="middle" font-size="14" font-weight="bold" fill="#c055c0" textLength="28.8" lengthAdjust="spacingAndGlyphs">Dlx5</text>
<text transform="translate(301.3,443.3) rotate(-90)" text-anchor="middle" font-size="14" font-weight="bold" fill="#3cbfc6" textLength="33.6" lengthAdjust="spacingAndGlyphs">Msx1</text>
<text transform="translate(301.3,515.5) rotate(-90)" text-anchor="middle" font-size="14" font-weight="bold" fill="#d6ce22" textLength="40.9" lengthAdjust="spacingAndGlyphs">Myc-N</text>
<rect x="309.3" y="258.4" width="362" height="295.6" fill="#c6c6c6"/>
<clipPath id="cp00"><rect x="311" y="258.4" width="88.69999999999999" height="72.60000000000002"/></clipPath>
<g clip-path="url(#cp00)"><rect x="311" y="258.4" width="88.69999999999999" height="72.60000000000002" fill="#020204"/>
<g filter="url(#texA)"><path d="M305,284 L318,282 L330,286 L338,296 L342,312 L348,335 L305,335 Z" fill="#48ba48" opacity="1.0" filter="url(#bb15)"/><path d="M360,266 L380,270 L396,282 L398,335 L366,335 C372,320 376,305 372,290 C368,280 364,272 360,266 Z" fill="#2a862a" opacity="1.0" filter="url(#bb25)"/><path d="M370,258 L402,258 L402,284 L386,276 Z" fill="#000" opacity="1.0" filter="url(#bb30)"/><path d="M396,258 L402,258 L402,335 L396,335 Z" fill="#000" opacity="1.0" filter="url(#bb15)"/></g><g filter="url(#texB)"><path d="M336.5,274 C337.5,269 341,267.5 343.5,271 L348,276 L351.5,284 L355,300 L358.5,318 L360.5,333 L344,333 C340,318 337,298 336.5,274 Z" fill="#5ac45a" opacity="1.0" filter="url(#bb8)"/><path d="M349,270 C350,265 353,262.5 355.5,263 C359,266 362,272 364,278 C368,283 373,290 375.5,303 C376.5,315 372,325 368,333 L360,333 L358.5,318 L355,300 L351.5,284 Z" fill="#4cb44c" opacity="1.0" filter="url(#bb8)"/></g>
</g>
<clipPath id="cp01"><rect x="401.1" y="258.4" width="87.69999999999999" height="72.60000000000002"/></clipPath>
<g clip-path="url(#cp01)"><rect x="401.1" y="258.4" width="87.69999999999999" height="72.60000000000002" fill="#020204"/>
<g filter="url(#texA)"><path d="M398,280 L440,282 L440,335 L398,335 Z" fill="#0e380e" opacity="1.0" filter="url(#bb30)"/><path d="M444,270 L492,272 L492,335 L446,335 Z" fill="#134a13" opacity="1.0" filter="url(#bb30)"/><path d="M437,270 L444,270 L444,335 L439,335 Z" fill="#2a822a" opacity="1.0" filter="url(#bb15)"/><path d="M450,268 L460,266 L460,286 L451,286 Z" fill="#2e8a2e" opacity="1.0" filter="url(#bb20)"/><path d="M420,300 L436,300 L436,325 L420,325 Z" fill="#000" opacity="1.0" filter="url(#bb40)"/></g>
</g>
<clipPath id="cp02"><rect x="490.1" y="258.4" width="88.60000000000002" height="72.60000000000002"/></clipPath>
<g clip-path="url(#cp02)"><rect x="490.1" y="258.4" width="88.60000000000002" height="72.60000000000002" fill="#020204"/>
<g filter="url(#texA)"><path d="M487,282 L510,278 L522,272 L537.6,283 L539,290 L535,311 L526,335 L487,335 Z" fill="#369c36" opacity="1.0" filter="url(#bb15)"/><path d="M540,276 L582,272 L582,335 L541,335 Z" fill="#174e17" opacity="1.0" filter="url(#bb30)"/><path d="M487,258 L537,258 L530,272 L510,280 L487,284 Z" fill="#1a581a" opacity="1.0" filter="url(#bb20)"/><path d="M555,258 L582,258 L582,282 L560,280 Z" fill="#000" opacity="1.0" filter="url(#bb30)"/></g><path d="M533,300 L538.5,296 L540,331 L528,331 Z" fill="#000" opacity="1.0" filter="url(#bb15)"/><path d="M520,268 C532,270 539,280 538,292 C537,305 532,318 526,332" fill="none" stroke="#48b048" stroke-width="2.5" stroke-linecap="round" stroke-linejoin="round" opacity="0.75" filter="url(#bb10)"/>
</g>
<clipPath id="cp03"><rect x="580.1" y="258.4" width="90.89999999999998" height="72.60000000000002"/></clipPath>
<g clip-path="url(#cp03)"><rect x="580.1" y="258.4" width="90.89999999999998" height="72.60000000000002" fill="#020204"/>
<g filter="url(#texA)"><path d="M577,258 L610,258 L612,271.6 L625,285 L629.2,296 L624,310 L610,326 L606,335 L577,335 Z" fill="#46b246" opacity="1.0" filter="url(#bb15)"/><path d="M640,278 C650,276 662,278 675,282 L675,296 L644,294 Z" fill="#226e22" opacity="1.0" filter="url(#bb25)"/><path d="M630,300 L675,298 L675,335 L628,335 Z" fill="#134613" opacity="1.0" filter="url(#bb30)"/></g><path d="M606,278 C618,276 628,288 628,298 C627,310 616,322 608,330" fill="none" stroke="#52bc52" stroke-width="3" stroke-linecap="round" stroke-linejoin="round" opacity="0.8" filter="url(#bb12)"/>
</g>
<clipPath id="cp10"><rect x="311" y="332.7" width="88.69999999999999" height="72.19999999999999"/></clipPath>
<g clip-path="url(#cp10)"><rect x="311" y="332.7" width="88.69999999999999" height="72.19999999999999" fill="#020204"/>
<g filter="url(#texB)"><path d="M338,342 C340,341 342,342 342.5,345 C344,355 346,366 349,376 C351,386 351,396 350.5,406 L345,406 C343,398 340.5,388 338.5,378 C336.5,368 335.5,356 336.5,348 C336.8,345 337.2,343 338,342 Z" fill="#8e3e9e" opacity="1.0" filter="url(#bb12)"/><path d="M355,336 C357.5,336 359.5,338 362,343 C365,349 370,355 374,364 C377.5,371 378.5,380 377,390 C376,397 375,402 374.5,406 L366,406 C365.5,398 364,390 361,381 C357.5,373 354.5,366 354,356 C353.5,348 353.5,340 355,336 Z" fill="#93429f" opacity="1.0" filter="url(#bb12)"/></g><g filter="url(#texB)"><path d="M356,338 C360,342 366,352 371,362 L366,366 C361,358 357,350 356,342 Z" fill="#a24eb2" opacity="1.0" filter="url(#bb15)"/></g>
</g>
<clipPath id="cp11"><rect x="401.1" y="332.7" width="87.69999999999999" height="72.19999999999999"/></clipPath>
<g clip-path="url(#cp11)"><rect x="401.1" y="332.7" width="87.69999999999999" height="72.19999999999999" fill="#020204"/>
<g filter="url(#texA)"><path d="M398,330 L492,330 L492,408 L398,408 Z" fill="#1a0a1f" opacity="1.0"/><path d="M412,345 C425,338 462,338 474,350 L476,406 L410,406 Z" fill="#2e1236" opacity="1.0" filter="url(#bb60)"/></g><g filter="url(#texB)"><path d="M437,337 C440.5,338 442,343 442,350 C441,360 439.5,368 439,378 C438.5,388 438.5,398 438.5,406 L428,406 C424,398 420,390 419.5,380 C420,368 426,358 431,350 C433,344 434,339 437,337 Z" fill="#8a3e9c" opacity="1.0" filter="url(#bb13)"/><path d="M454,339 C457,340 457.5,346 457,352 C461,358 465,366 466,375 C465,385 458,395 452,406 L443.5,406 C442.5,396 443,386 443.5,376 C444,366 445,356 448.5,348 C450,343 452,340 454,339 Z" fill="#8a3e9c" opacity="1.0" filter="url(#bb13)"/></g>
</g>
<clipPath id="cp12"><rect x="490.1" y="332.7" width="88.60000000000002" height="72.19999999999999"/></clipPath>
<g clip-path="url(#cp12)"><rect x="490.1" y="332.7" width="88.60000000000002" height="72.19999999999999" fill="#020204"/>
<g filter="url(#texA)"><path d="M487,350 C505,345 520,355 528,370 L528,408 L487,408 Z" fill="#4a1c56" opacity="1.0" filter="url(#bb40)"/></g><g filter="url(#texB)"><path d="M524,354 C522,346 528,342 535,341.5 C541,341.5 545,345 545.5,350" fill="none" stroke="#a048b0" stroke-width="5" stroke-linecap="round" stroke-linejoin="round" opacity="1.0" filter="url(#bb9)"/><path d="M526,355 C532,357 537,360 537,366 C536,375 530,382 527,390 C525,396 524.5,402 524.5,406" fill="none" stroke="#8a3c98" stroke-width="4.5" stroke-linecap="round" stroke-linejoin="round" opacity="1.0" filter="url(#bb9)"/><path d="M545.5,350 C548,357 549.5,364 548,372 C546.5,380 545,392 544.5,406" fill="none" stroke="#7a3088" stroke-width="4.5" stroke-linecap="round" stroke-linejoin="round" opacity="1.0" filter="url(#bb9)"/></g>
</g>
<clipPath id="cp13"><rect x="580.1" y="332.7" width="90.89999999999998" height="72.19999999999999"/></clipPath>
<g clip-path="url(#cp13)"><rect x="580.1" y="332.7" width="90.89999999999998" height="72.19999999999999" fill="#020204"/>
<g filter="url(#texA)"><path d="M580,350 C595,348 608,355 612,370 L608,395 L580,390 Z" fill="#4a1c56" opacity="1.0" filter="url(#bb40)"/></g><g filter="url(#texB)"><path d="M614.3,345.6 L617,342.2 L633.3,341.5 L637.4,345.6 L638.7,352.4 L634,352 L632,347 L620,347.5 L619.7,356.4 L625.2,364.6 L625.2,372.7 L619.7,382.2 L611.6,393.1 L610.2,406 L606.2,406 L610.2,389 L603.4,376.8 L603.4,367.3 L611.6,359.2 Z" fill="#8e3e9e" opacity="1.0" filter="url(#bb10)"/><path d="M638,352 C641,360 644,368 643.5,374 C642,382 640,392 639,406" fill="none" stroke="#8c3c9c" stroke-width="4.5" stroke-linecap="round" stroke-linejoin="round" opacity="1.0" filter="url(#bb9)"/></g>
</g>
<clipPath id="cp20"><rect x="311" y="406.2" width="88.69999999999999" height="72.60000000000002"/></clipPath>
<g clip-path="url(#cp20)"><rect x="311" y="406.2" width="88.69999999999999" height="72.60000000000002" fill="#020204"/>
<g filter="url(#texA)"><path d="M312,408 L336,408 L336,445 L312,445 Z" fill="#061a1c" opacity="1.0" filter="url(#bb60)"/><path d="M341,442 C345,447 349,452 349.5,460 L349.5,481" fill="none" stroke="#1d7a80" stroke-width="3.5" stroke-linecap="round" stroke-linejoin="round" opacity="1.0" filter="url(#bb9)"/><path d="M386,426 C390,428 392,434 391,445 C390,458 389,468 389,481" fill="none" stroke="#1a6c72" stroke-width="5" stroke-linecap="round" stroke-linejoin="round" opacity="1.0" filter="url(#bb12)"/></g><g filter="url(#texB)"><path d="M356,416 C356,424 358,434 361,444 C361,452 361,458 364,464 C367,470 368,476 368.5,481" fill="none" stroke="#36b2ba" stroke-width="6" stroke-linecap="round" stroke-linejoin="round" opacity="1.0" filter="url(#bb7)"/></g>
</g>
<clipPath id="cp21"><rect x="401.1" y="406.2" width="87.69999999999999" height="72.60000000000002"/></clipPath>
<g clip-path="url(#cp21)"><rect x="401.1" y="406.2" width="87.69999999999999" height="72.60000000000002" fill="#020204"/>
<g filter="url(#texB)"><path d="M438.1,416.8 C440,424 442,431 443,438 C443.5,448 444.5,460 445.3,481" fill="none" stroke="#36b2ba" stroke-width="6.5" stroke-linecap="round" stroke-linejoin="round" opacity="1.0" filter="url(#bb7)"/><path d="M453.9,419.5 C450,424 446,429 443,435 C440,442 438,450 437,460 C437,468 438,475 438.1,481" fill="none" stroke="#36b2ba" stroke-width="6.5" stroke-linecap="round" stroke-linejoin="round" opacity="1.0" filter="url(#bb7)"/><path d="M441,440 L441,470" fill="none" stroke="#36b2ba" stroke-width="7" stroke-linecap="round" stroke-linejoin="round" opacity="1.0" filter="url(#bb10)"/></g>
</g>
<clipPath id="cp22"><rect x="490.1" y="406.2" width="88.60000000000002" height="72.60000000000002"/></clipPath>
<g clip-path="url(#cp22)"><rect x="490.1" y="406.2" width="88.60000000000002" height="72.60000000000002" fill="#020204"/>
<g filter="url(#texA)"><path d="M522.5,427 C523,421 528,417 534,416.5 C540,416.5 545,420 547,428 C549,433 550,436 550.5,437" fill="none" stroke="#1f8a90" stroke-width="4.5" stroke-linecap="round" stroke-linejoin="round" opacity="1.0" filter="url(#bb9)"/><path d="M544.5,426 C545.5,436 546,446 544,454 C543,462 543,470 543,481" fill="none" stroke="#1a7a80" stroke-width="5.5" stroke-linecap="round" stroke-linejoin="round" opacity="1.0" filter="url(#bb10)"/><path d="M490,460 L505,460 L506,481 L490,481 Z" fill="#072022" opacity="1.0" filter="url(#bb40)"/></g><g filter="url(#texB)"><path d="M526,430 C531,427 537,429 538.5,436 C539,443 535,450 532,456 C529,463 526.5,470 525,481" fill="none" stroke="#3ab6be" stroke-width="7" stroke-linecap="round" stroke-linejoin="round" opacity="1.0" filter="url(#bb7)"/></g>
</g>
<clipPath id="cp23"><rect x="580.1" y="406.2" width="90.89999999999998" height="72.60000000000002"/></clipPath>
<g clip-path="url(#cp23)"><rect x="580.1" y="406.2" width="90.89999999999998" height="72.60000000000002" fill="#020204"/>
<g filter="url(#texA)"><path d="M637.4,409 C638.5,416 639,422 638.5,428 C637,436 636,444 636,452 C636,462 636.5,470 636.7,481" fill="none" stroke="#19767c" stroke-width="5" stroke-linecap="round" stroke-linejoin="round" opacity="1.0" filter="url(#bb12)"/><path d="M580,464 L596,464 L596,481 L580,481 Z" fill="#061c1e" opacity="1.0" filter="url(#bb40)"/></g><g filter="url(#texB)"><path d="M613,421 C617,428 622,434 624.5,440 C626.5,447 624,453 619,458 C614,464 610,472 608.5,481" fill="none" stroke="#3ab6be" stroke-width="7" stroke-linecap="round" stroke-linejoin="round" opacity="1.0" filter="url(#bb7)"/></g>
</g>
<clipPath id="cp30"><rect x="311" y="480.2" width="88.69999999999999" height="73.59999999999997"/></clipPath>
<g clip-path="url(#cp30)"><rect x="311" y="480.2" width="88.69999999999999" height="73.59999999999997" fill="#020204"/>
<g filter="url(#texB)"><path d="M340.5,497 C341,503 343.5,509 346.5,515 C349.5,525 352,537 354.5,553" fill="none" stroke="#8e8820" stroke-width="8" stroke-linecap="round" stroke-linejoin="round" opacity="1.0" filter="url(#bb12)"/><path d="M356.5,489 C355.5,495 355,503 356,510 C358.5,518 362,524 364.5,532 C366,540 367.5,546 369,556" fill="none" stroke="#b2aa28" stroke-width="7" stroke-linecap="round" stroke-linejoin="round" opacity="1.0" filter="url(#bb11)"/><path d="M348,514 C352,521 355,530 358,548" fill="none" stroke="#9a9222" stroke-width="7" stroke-linecap="round" stroke-linejoin="round" opacity="1.0" filter="url(#bb14)"/></g>
</g>
<clipPath id="cp31"><rect x="401.1" y="480.2" width="87.69999999999999" height="73.59999999999997"/></clipPath>
<g clip-path="url(#cp31)"><rect x="401.1" y="480.2" width="87.69999999999999" height="73.59999999999997" fill="#020204"/>
<g filter="url(#texB)"><path d="M438.5,486 C438,495 437.5,505 438,514 C439,525 439,538 440,556" fill="none" stroke="#b8b02a" stroke-width="8" stroke-linecap="round" stroke-linejoin="round" opacity="1.0" filter="url(#bb11)"/><path d="M454,490 C453,496 451,503 449,510 C447,520 446.5,535 446,556" fill="none" stroke="#b0a828" stroke-width="7.5" stroke-linecap="round" stroke-linejoin="round" opacity="1.0" filter="url(#bb11)"/><path d="M443,503 C442.5,520 443,540 443,556" fill="none" stroke="#aaa226" stroke-width="8" stroke-linecap="round" stroke-linejoin="round" opacity="1.0" filter="url(#bb12)"/></g>
</g>
<clipPath id="cp32"><rect x="490.1" y="480.2" width="88.60000000000002" height="73.59999999999997"/></clipPath>
<g clip-path="url(#cp32)"><rect x="490.1" y="480.2" width="88.60000000000002" height="73.59999999999997" fill="#020204"/>
<g filter="url(#texA)"><path d="M527,497 C528,491 533,489 539,489 C543,490 545,495 545,500" fill="none" stroke="#8e8820" stroke-width="6" stroke-linecap="round" stroke-linejoin="round" opacity="1.0" filter="url(#bb9)"/><path d="M526.5,497.5 C528,502 534,503 538,505" fill="none" stroke="#8e8820" stroke-width="5.5" stroke-linecap="round" stroke-linejoin="round" opacity="1.0" filter="url(#bb9)"/><path d="M546,508 C548,515 548,525 546,535 C545,542 544.5,548 544.5,556" fill="none" stroke="#5e5a16" stroke-width="6" stroke-linecap="round" stroke-linejoin="round" opacity="1.0" filter="url(#bb12)"/></g><g filter="url(#texB)"><path d="M539,505 C542,510 542,516 538,522 C534,530 530,538 527.5,546 C526.5,550 526,553 526,556" fill="none" stroke="#c8c030" stroke-width="5.5" stroke-linecap="round" stroke-linejoin="round" opacity="1.0" filter="url(#bb7)"/></g>
</g>
<clipPath id="cp33"><rect x="580.1" y="480.2" width="90.89999999999998" height="73.59999999999997"/></clipPath>
<g clip-path="url(#cp33)"><rect x="580.1" y="480.2" width="90.89999999999998" height="73.59999999999997" fill="#020204"/>
<rect x="580" y="480" width="92" height="75" fill="#070702"/><rect x="580" y="480" width="92" height="75" filter="url(#specF)"/><g filter="url(#texB)"><path d="M613,492.6 L618.4,489.2 L630.6,489.2 L637.4,492.6 L640.1,499.4 L640.1,519.7 L637.4,530.6 L632,531 L633,518 L632,505 L628,496 L622,494 L621,500 L626.5,506.2 L630.6,517 L629.2,530.6 L623.8,540.1 L617,548 L612,556 L604,556 L608,546 L617,536 L611.6,530.6 L608.2,519.7 L610.2,510.2 L615.7,504.8 L613,499.4 Z" fill="#4e4a14" opacity="1.0" filter="url(#bb8)"/><path d="M614,500 C613,494 617,490 623,489.6 C629,489.3 635,490.5 638,494 C640.5,499 640.5,508 640,516 C639.5,522 638.5,527 637.5,531" fill="none" stroke="#b0a82a" stroke-width="2.2" stroke-linecap="round" stroke-linejoin="round" opacity="1.0" filter="url(#bb6)"/><path d="M614,500 C615.5,503 615,506 612,509 C608.5,514 608,522 611,529 C613.5,533 617,535 616,539 C613,545 608,550 605.5,556" fill="none" stroke="#b0a82a" stroke-width="2.2" stroke-linecap="round" stroke-linejoin="round" opacity="1.0" filter="url(#bb6)"/><path d="M621.5,494.5 C624,500 628,507 630,515 C631,524 628,532 624,538 C621,544 617,550 613,556" fill="none" stroke="#9a9224" stroke-width="2.2" stroke-linecap="round" stroke-linejoin="round" opacity="1.0" filter="url(#bb6)"/><path d="M636,528 C638,534 638,541 637,549" fill="none" stroke="#5e5a16" stroke-width="5" stroke-linecap="round" stroke-linejoin="round" opacity="1.0" filter="url(#bb12)"/><path d="M654,492 C659,487 667,487 671,491" fill="none" stroke="#a29a26" stroke-width="3" stroke-linecap="round" stroke-linejoin="round" opacity="1.0" filter="url(#bb10)"/></g>
</g>
<text x="312.6" y="270.8" font-size="13.8" fill="#e8222b" font-weight="bold">K4</text>
<text x="398.8" y="270.9" font-size="13.7" fill="#fff" font-weight="bold" text-anchor="end">Co</text>
<text x="402.70000000000005" y="270.8" font-size="13.8" fill="#e8222b" font-weight="bold">K4</text>
<text x="487.90000000000003" y="270.9" font-size="13.7" fill="#fff" font-weight="bold" text-anchor="end">Co</text>
<text x="402.70000000000005" y="283" font-size="13.3" fill="#fff" font-weight="bold">+T17N</text>
<text x="491.70000000000005" y="270.8" font-size="13.8" fill="#e8222b" font-weight="bold">K4</text>
<text x="577.8000000000001" y="270.9" font-size="13.7" fill="#fff" font-weight="bold" text-anchor="end">Co</text>
<text x="491.70000000000005" y="283" font-size="13.3" fill="#fff" font-weight="bold">+T17N</text>
<text x="581.7" y="270.8" font-size="13.8" fill="#e8222b" font-weight="bold">K4</text>
<text x="670.1" y="270.9" font-size="13.7" fill="#fff" font-weight="bold" text-anchor="end">Co</text>
<text x="581.7" y="283" font-size="13.3" fill="#fff" font-weight="bold">+T17N</text>
<path d="M347,258.4 C349,275 353,290 357,310 L360,331" fill="none" stroke="#fff" stroke-width="1.5" stroke-dasharray="3 2.2"/>
<path d="M451.5,258.4 C447,270 444.7,280 444.7,295 L444.5,331" fill="none" stroke="#fff" stroke-width="1.5" stroke-dasharray="3 2.2"/>
<path d="M537.6,258.4 C538.5,268 540,285 540.9,297 L540.2,331" fill="none" stroke="#fff" stroke-width="1.5" stroke-dasharray="3 2.2"/>
<path d="M627.9,258.4 C629.5,270 630.6,285 630.6,292 C630,310 628,322 625,331" fill="none" stroke="#fff" stroke-width="1.5" stroke-dasharray="3 2.2"/>
<line x1="334.3" y1="385.2" x2="338.9" y2="379.0" stroke="#e8222b" stroke-width="1.6"/>
<polygon points="340.0,377.5 339.7,382.3 335.5,379.2" fill="#e8222b"/>
<line x1="376.4" y1="382.6" x2="370.7" y2="378.1" stroke="#ffffff" stroke-width="1.6"/>
<polygon points="369.3,376.9 374.1,377.4 370.8,381.5" fill="#ffffff"/>
<line x1="426.9" y1="385.9" x2="430.8" y2="380.3" stroke="#e8222b" stroke-width="1.6"/>
<polygon points="431.8,378.8 431.7,383.6 427.4,380.6" fill="#e8222b"/>
<line x1="457.2" y1="385.9" x2="453.3" y2="380.3" stroke="#ffffff" stroke-width="1.6"/>
<polygon points="452.3,378.8 456.7,380.6 452.4,383.6" fill="#ffffff"/>
<line x1="520.5" y1="385.2" x2="526.3" y2="379.4" stroke="#e8222b" stroke-width="1.6"/>
<polygon points="527.5,378.2 526.5,382.8 522.9,379.2" fill="#e8222b"/>
<line x1="554.0" y1="386.5" x2="548.9" y2="381.4" stroke="#ffffff" stroke-width="1.6"/>
<polygon points="547.7,380.2 552.3,381.2 548.7,384.8" fill="#ffffff"/>
<line x1="613.6" y1="378.8" x2="618.9" y2="373.5" stroke="#e8222b" stroke-width="1.6"/>
<polygon points="620.1,372.3 619.1,376.9 615.5,373.3" fill="#e8222b"/>
<line x1="648.9" y1="379.5" x2="643.6" y2="373.6" stroke="#ffffff" stroke-width="1.6"/>
<polygon points="642.4,372.3 647.0,373.5 643.1,377.0" fill="#ffffff"/>
<line x1="338.2" y1="462.8" x2="343.4" y2="456.5" stroke="#e8222b" stroke-width="1.6"/>
<polygon points="344.6,455.1 344.0,459.9 340.0,456.5" fill="#e8222b"/>
<line x1="373.1" y1="458.9" x2="366.2" y2="454.9" stroke="#ffffff" stroke-width="1.6"/>
<polygon points="364.7,454.0 369.4,453.8 366.8,458.3" fill="#ffffff"/>
<line x1="429.6" y1="458.9" x2="434.5" y2="452.6" stroke="#e8222b" stroke-width="1.6"/>
<polygon points="435.6,451.1 435.2,455.9 431.1,452.7" fill="#e8222b"/>
<line x1="454.5" y1="458.9" x2="450.0" y2="453.2" stroke="#ffffff" stroke-width="1.6"/>
<polygon points="448.9,451.8 453.4,453.4 449.4,456.6" fill="#ffffff"/>
<line x1="523.8" y1="449.7" x2="530.7" y2="444.5" stroke="#e8222b" stroke-width="1.6"/>
<polygon points="532.2,443.4 530.5,447.9 527.4,443.8" fill="#e8222b"/>
<line x1="556.7" y1="453.0" x2="550.9" y2="447.2" stroke="#ffffff" stroke-width="1.6"/>
<polygon points="549.7,446.0 554.3,447.0 550.7,450.6" fill="#ffffff"/>
<line x1="610.9" y1="455.9" x2="618.0" y2="450.5" stroke="#e8222b" stroke-width="1.6"/>
<polygon points="619.5,449.4 617.8,453.9 614.7,449.8" fill="#e8222b"/>
<line x1="647.6" y1="457.9" x2="642.9" y2="452.1" stroke="#ffffff" stroke-width="1.6"/>
<polygon points="641.7,450.7 646.3,452.2 642.2,455.5" fill="#ffffff"/>
<line x1="341.5" y1="532.9" x2="346.7" y2="526.0" stroke="#e8222b" stroke-width="1.6"/>
<polygon points="347.8,524.5 347.4,529.3 343.3,526.2" fill="#e8222b"/>
<line x1="374.4" y1="528.9" x2="367.5" y2="524.9" stroke="#ffffff" stroke-width="1.6"/>
<polygon points="366.0,524.0 370.7,523.8 368.1,528.3" fill="#ffffff"/>
<line x1="428.9" y1="525.0" x2="434.4" y2="518.7" stroke="#e8222b" stroke-width="1.6"/>
<polygon points="435.6,517.3 434.9,522.1 431.0,518.6" fill="#e8222b"/>
<line x1="453.9" y1="525.0" x2="449.9" y2="518.8" stroke="#ffffff" stroke-width="1.6"/>
<polygon points="449.0,517.3 453.3,519.3 448.9,522.1" fill="#ffffff"/>
<line x1="525.1" y1="522.4" x2="531.4" y2="517.8" stroke="#e8222b" stroke-width="1.6"/>
<polygon points="532.9,516.7 531.2,521.2 528.1,517.0" fill="#e8222b"/>
<line x1="557.3" y1="525.6" x2="552.6" y2="520.6" stroke="#ffffff" stroke-width="1.6"/>
<polygon points="551.4,519.3 556.0,520.4 552.2,524.0" fill="#ffffff"/>
<line x1="612.3" y1="521.8" x2="618.8" y2="515.8" stroke="#e8222b" stroke-width="1.6"/>
<polygon points="620.1,514.6 619.0,519.2 615.4,515.4" fill="#e8222b"/>
<line x1="644.8" y1="523.8" x2="639.5" y2="517.9" stroke="#ffffff" stroke-width="1.6"/>
<polygon points="638.3,516.6 642.9,517.8 639.0,521.3" fill="#ffffff"/>
<rect x="649.5" y="550" width="19.5" height="1.8" fill="#fff"/>
<rect x="309.8" y="554.6" width="361.9" height="73.1" fill="#dfdfdf"/>
<rect x="400.8" y="554.6" width="88.6" height="73.1" fill="#e7e8e8"/>
<polygon points="309.8,628.3 672.5,649.2 309.8,649.6" fill="#7d7f83"/>
<text x="312.6" y="644.6" font-size="13.2" fill="#fff" font-style="italic">CDC42 activity</text>
<text x="283" y="635.6" font-size="12" fill="#222" font-style="italic">exp.</text>
<text x="283" y="649.4" font-size="12" fill="#222" font-style="italic">side</text>
<line x1="400.8" y1="554.6" x2="400.8" y2="633.5" stroke="#111" stroke-width="1.4" stroke-dasharray="2.2 1.6"/>
<line x1="489.4" y1="554.6" x2="489.4" y2="639.3" stroke="#111" stroke-width="1.4" stroke-dasharray="2.2 1.6"/>
<path d="M338.5,599 C339,613 347,622 357.5,622 C369,622 376,612 374,596 L366,593 L350,597 Z" fill="#c6d531" stroke="#1a1a1a" stroke-width="0.55" stroke-linejoin="round"/><path d="M348.5,599 C351,592 355,586 360,583.5 C363.5,586 365,590 362,594 C366,600 366,608 362,612.5 C358,615.5 353,614 351,608 Z" fill="#fde91c" stroke="#1a1a1a" stroke-width="0.55" stroke-linejoin="round"/><polygon points="317,602 334,600.5 334,603.5 317,605" fill="#b01470" stroke="#1a1a1a" stroke-width="0.55" stroke-linejoin="round"/><polygon points="317,602 328,587 340.5,585 334,600.5" fill="#e01b8c" stroke="#1a1a1a" stroke-width="0.55" stroke-linejoin="round"/><polygon points="334,600.5 349,598 349,601 334,603.5" fill="#6a6a6a" stroke="#1a1a1a" stroke-width="0.55" stroke-linejoin="round"/><polygon points="334,600.5 340.5,585 360,581.8 349,598" fill="#8d8d8d" stroke="#1a1a1a" stroke-width="0.55" stroke-linejoin="round"/><rect x="332.2" y="598.4" width="1.5" height="1.1" fill="#4cc3d0"/><rect x="329.9" y="599.1" width="1.5" height="1.1" fill="#4cc3d0"/><rect x="355.5" y="586.1" width="1.5" height="1.1" fill="#fde91c"/><rect x="336.1" y="592.3" width="1.5" height="1.1" fill="#4cc3d0"/><rect x="330.7" y="598.5" width="1.5" height="1.1" fill="#4cc3d0"/><rect x="356.0" y="585.7" width="1.5" height="1.1" fill="#fde91c"/><rect x="346.6" y="595.3" width="1.5" height="1.1" fill="#4cc3d0"/><rect x="347.8" y="588.2" width="1.5" height="1.1" fill="#fde91c"/><rect x="347.5" y="596.6" width="1.5" height="1.1" fill="#fde91c"/><rect x="346.6" y="591.2" width="1.5" height="1.1" fill="#4cc3d0"/><rect x="337.8" y="597.8" width="1.5" height="1.1" fill="#fde91c"/><rect x="351.7" y="590.0" width="1.5" height="1.1" fill="#4cc3d0"/><rect x="353.0" y="589.5" width="1.5" height="1.1" fill="#fde91c"/><rect x="350.9" y="590.6" width="1.5" height="1.1" fill="#4cc3d0"/><rect x="344.1" y="592.6" width="1.5" height="1.1" fill="#4cc3d0"/><rect x="340.9" y="588.2" width="1.5" height="1.1" fill="#4cc3d0"/><rect x="332.8" y="591.7" width="1.5" height="1.1" fill="#4cc3d0"/><rect x="343.0" y="592.2" width="1.5" height="1.1" fill="#4cc3d0"/><rect x="351.4" y="594.7" width="1.5" height="1.1" fill="#4cc3d0"/><rect x="336.6" y="591.1" width="1.5" height="1.1" fill="#4cc3d0"/><rect x="341.4" y="588.9" width="1.5" height="1.1" fill="#4cc3d0"/><rect x="347.9" y="586.0" width="1.5" height="1.1" fill="#4cc3d0"/><rect x="329.2" y="597.2" width="1.5" height="1.1" fill="#fde91c"/><rect x="342.6" y="595.3" width="1.5" height="1.1" fill="#4cc3d0"/><rect x="334.3" y="593.6" width="1.5" height="1.1" fill="#4cc3d0"/><rect x="351.1" y="585.6" width="1.5" height="1.1" fill="#fde91c"/><rect x="352.6" y="584.5" width="1.5" height="1.1" fill="#4cc3d0"/><rect x="342.0" y="586.1" width="1.5" height="1.1" fill="#fde91c"/><rect x="344.7" y="586.0" width="1.5" height="1.1" fill="#fde91c"/><rect x="348.0" y="593.8" width="1.5" height="1.1" fill="#4cc3d0"/><rect x="337.5" y="597.2" width="1.5" height="1.1" fill="#4cc3d0"/><rect x="351.9" y="592.8" width="1.5" height="1.1" fill="#4cc3d0"/><rect x="328.3" y="598.0" width="1.5" height="1.1" fill="#fde91c"/><rect x="337.1" y="595.3" width="1.5" height="1.1" fill="#4cc3d0"/><rect x="353.3" y="591.4" width="1.5" height="1.1" fill="#4cc3d0"/><rect x="327.5" y="599.6" width="1.5" height="1.1" fill="#4cc3d0"/><rect x="343.2" y="596.3" width="1.5" height="1.1" fill="#4cc3d0"/><rect x="339.7" y="595.5" width="1.5" height="1.1" fill="#fde91c"/><rect x="333.7" y="592.8" width="1.5" height="1.1" fill="#fde91c"/><rect x="345.1" y="585.3" width="1.5" height="1.1" fill="#4cc3d0"/><rect x="335.4" y="594.0" width="1.5" height="1.1" fill="#4cc3d0"/><rect x="338.1" y="595.7" width="1.5" height="1.1" fill="#fde91c"/><rect x="350.4" y="590.8" width="1.5" height="1.1" fill="#4cc3d0"/><rect x="334.0" y="596.3" width="1.5" height="1.1" fill="#4cc3d0"/><rect x="339.7" y="587.7" width="1.5" height="1.1" fill="#4cc3d0"/><rect x="335.9" y="587.5" width="1.5" height="1.1" fill="#fde91c"/><rect x="353.3" y="591.7" width="1.5" height="1.1" fill="#fde91c"/><rect x="349.0" y="587.2" width="1.5" height="1.1" fill="#fde91c"/><rect x="338.3" y="597.7" width="1.5" height="1.1" fill="#4cc3d0"/><rect x="355.4" y="584.9" width="1.5" height="1.1" fill="#fde91c"/><rect x="340.1" y="590.3" width="1.5" height="1.1" fill="#fde91c"/><rect x="349.0" y="586.9" width="1.5" height="1.1" fill="#4cc3d0"/><rect x="348.0" y="588.7" width="1.5" height="1.1" fill="#4cc3d0"/><rect x="357.1" y="583.8" width="1.5" height="1.1" fill="#4cc3d0"/><rect x="358.3" y="583.6" width="1.5" height="1.1" fill="#fde91c"/><rect x="328.4" y="589.0" width="1.5" height="1.1" fill="#4cc3d0"/><rect x="335.0" y="590.9" width="1.5" height="1.1" fill="#4cc3d0"/><rect x="327.0" y="592.5" width="1.5" height="1.1" fill="#fde91c"/><rect x="335.4" y="587.6" width="1.5" height="1.1" fill="#4cc3d0"/><rect x="328.3" y="588.8" width="1.5" height="1.1" fill="#4cc3d0"/><rect x="328.7" y="598.6" width="1.5" height="1.1" fill="#fde91c"/><rect x="335.3" y="588.2" width="1.5" height="1.1" fill="#fde91c"/><rect x="329.5" y="597.5" width="1.5" height="1.1" fill="#fde91c"/><rect x="331.1" y="588.7" width="1.5" height="1.1" fill="#fde91c"/><rect x="328.8" y="593.5" width="1.5" height="1.1" fill="#4cc3d0"/><rect x="325.3" y="593.2" width="1.5" height="1.1" fill="#4cc3d0"/><rect x="333.4" y="591.8" width="1.5" height="1.1" fill="#4cc3d0"/><rect x="330.2" y="590.4" width="1.5" height="1.1" fill="#4cc3d0"/><rect x="327.5" y="589.9" width="1.5" height="1.1" fill="#fde91c"/><rect x="325.3" y="593.8" width="1.5" height="1.1" fill="#4cc3d0"/><polygon points="363,593 372.4,592.4 372.4,595.1999999999999 363,595.8" fill="#2e9aa8" stroke="#1a1a1a" stroke-width="0.55" stroke-linejoin="round"/><polygon points="363,593 373.6,579.5 381.7,579 372.4,592.4" fill="#4cc3d0" stroke="#1a1a1a" stroke-width="0.55" stroke-linejoin="round"/><polygon points="372.4,592.4 380.6,593.8 380.6,596.8 372.4,595.4" fill="#b01470" stroke="#1a1a1a" stroke-width="0.55" stroke-linejoin="round"/><polygon points="372.4,592.4 381.7,579 391,581 380.6,593.8" fill="#e01b8c" stroke="#1a1a1a" stroke-width="0.55" stroke-linejoin="round"/><polygon points="391,581 391,583.8 380.6,596.8 380.6,593.8" fill="#b01470" stroke="#1a1a1a" stroke-width="0.55" stroke-linejoin="round"/><path d="M424,599 C424,612 431,622 439,622 C447,622 455,610 455.5,598 L447,596 L430,598 Z" fill="#c6d531" stroke="#1a1a1a" stroke-width="0.55" stroke-linejoin="round"/><path d="M432.5,603.5 C436,596 441,589 444.5,583.5 C445,590 445,596 446.8,602 C444,608 442,613 439.5,615.5 C436,611 434,607 432.5,603.5 Z" fill="#fde91c" stroke="#1a1a1a" stroke-width="0.55" stroke-linejoin="round"/><polygon points="413,596 426.5,592.5 426.5,595.3 413,598.8" fill="#b01470" stroke="#1a1a1a" stroke-width="0.55" stroke-linejoin="round"/><polygon points="413,596 423,583.2 433.5,580.2 426.5,592.5" fill="#e01b8c" stroke="#1a1a1a" stroke-width="0.55" stroke-linejoin="round"/><polygon points="426.5,593 436.5,596.5 436.5,600.0 426.5,596.5" fill="#2e9aa8" stroke="#1a1a1a" stroke-width="0.55" stroke-linejoin="round"/><polygon points="426.5,593 432.8,580.5 444.7,581.2 436.5,596.5" fill="#4cc3d0" stroke="#1a1a1a" stroke-width="0.55" stroke-linejoin="round"/><polygon points="445.3,594.5 453.9,593.7 453.9,596.7 445.3,597.5" fill="#2e9aa8" stroke="#1a1a1a" stroke-width="0.55" stroke-linejoin="round"/><polygon points="445.3,594.5 453.9,580.5 461.8,579.3 453.9,593.7" fill="#4cc3d0" stroke="#1a1a1a" stroke-width="0.55" stroke-linejoin="round"/><polygon points="453.9,593.7 463,597.3 463,600.0999999999999 453.9,596.5" fill="#b01470" stroke="#1a1a1a" stroke-width="0.55" stroke-linejoin="round"/><polygon points="453.9,593.7 461.8,579.3 473.6,581.2 463,597.3" fill="#e01b8c" stroke="#1a1a1a" stroke-width="0.55" stroke-linejoin="round"/><polygon points="473.6,581.2 473.6,584 463,600.1 463,597.3" fill="#b01470" stroke="#1a1a1a" stroke-width="0.55" stroke-linejoin="round"/><path d="M516,600 C515,611 521,621 529,621 C537,621 542,613 546,608 C549,604 553,601 557,600 L545,596 L522,598 Z" fill="#c6d531" stroke="#1a1a1a" stroke-width="0.55" stroke-linejoin="round"/><path d="M522.8,606 C526,597 531,589 536.5,583.7 C538,590 541,594 544,596.8 C540,602 535,609 529.4,612 C525,611 523,609 522.8,606 Z" fill="#fde91c" stroke="#1a1a1a" stroke-width="0.55" stroke-linejoin="round"/><polygon points="505.3,599 517,596.1 517,598.9 505.3,601.8" fill="#b01470" stroke="#1a1a1a" stroke-width="0.55" stroke-linejoin="round"/><polygon points="505.3,599 514.1,585.1 525,581.5 517,596.1" fill="#e01b8c" stroke="#1a1a1a" stroke-width="0.55" stroke-linejoin="round"/><polygon points="517,596.1 526.5,598.3 526.5,601.3 517,599.1" fill="#2e9aa8" stroke="#1a1a1a" stroke-width="0.55" stroke-linejoin="round"/><polygon points="517,596.1 525,581.5 536,581.5 526.5,598.3" fill="#4cc3d0" stroke="#1a1a1a" stroke-width="0.55" stroke-linejoin="round"/><polygon points="544,596.8 562.3,598.3 562.3,601.3 544,599.8" fill="#2e9aa8" stroke="#1a1a1a" stroke-width="0.55" stroke-linejoin="round"/><polygon points="544,596.8 555.7,583.7 570.3,582.2 562.3,598.3" fill="#4cc3d0" stroke="#1a1a1a" stroke-width="0.55" stroke-linejoin="round"/><polygon points="562.3,597.5 571.8,599.7 571.8,602.5 562.3,600.3" fill="#b01470" stroke="#1a1a1a" stroke-width="0.55" stroke-linejoin="round"/><polygon points="562.3,597.5 570.3,582.2 581.2,585.1 571.8,599.7" fill="#e01b8c" stroke="#1a1a1a" stroke-width="0.55" stroke-linejoin="round"/><polygon points="581.2,585.1 581.2,587.9 571.8,602.5 571.8,599.7" fill="#b01470" stroke="#1a1a1a" stroke-width="0.55" stroke-linejoin="round"/>
<text x="329.7" y="570.7" font-size="12" fill="#222" font-style="italic">defective</text>
<text x="426.3" y="570.7" font-size="12.2" fill="#222" font-style="italic">rescue</text>
<text x="515.9" y="570.7" font-size="12" fill="#222" font-style="italic">accelerated</text>
<text x="311.2" y="625.4" font-size="12.8" fill="#e8222b" font-style="italic">Exp</text>
<text x="403.2" y="625.4" font-size="12.8" fill="#e8222b" font-style="italic">Exp</text>
<text x="492.7" y="625.4" font-size="12.8" fill="#e8222b" font-style="italic">Exp</text>
<text x="396.6" y="625.9" font-size="12.8" fill="#222" font-style="italic" text-anchor="end">Co</text>
<text x="484.8" y="625.9" font-size="12.8" fill="#222" font-style="italic" text-anchor="end">Co</text>
<text x="579.2" y="625.9" font-size="12.8" fill="#222" font-style="italic" text-anchor="end">Co</text>
<rect x="607.8" y="559.5" width="61.3" height="22.4" rx="5" fill="#5ec6d6"/>
<text x="638.5" y="568" font-size="10.4" fill="#fff" font-style="italic" text-anchor="middle">neural plate</text>
<text x="638.5" y="579.6" font-size="10.4" fill="#fff" font-style="italic" text-anchor="middle">border</text>
<rect x="607.8" y="585.6" width="61.3" height="12.8" rx="6" fill="#fbee20"/>
<text x="638.5" y="595" font-size="10.4" fill="#111" font-style="italic" text-anchor="middle">neural plate</text>
<rect x="608.9" y="602.9" width="61.1" height="22.8" rx="6" fill="#a84ea6"/>
<text x="639.4" y="611.4" font-size="10.4" fill="#fff" font-style="italic" text-anchor="middle">non-neural</text>
<text x="639.4" y="623.2" font-size="10.4" fill="#fff" font-style="italic" text-anchor="middle">ectoderm</text>
</svg></body></html>
